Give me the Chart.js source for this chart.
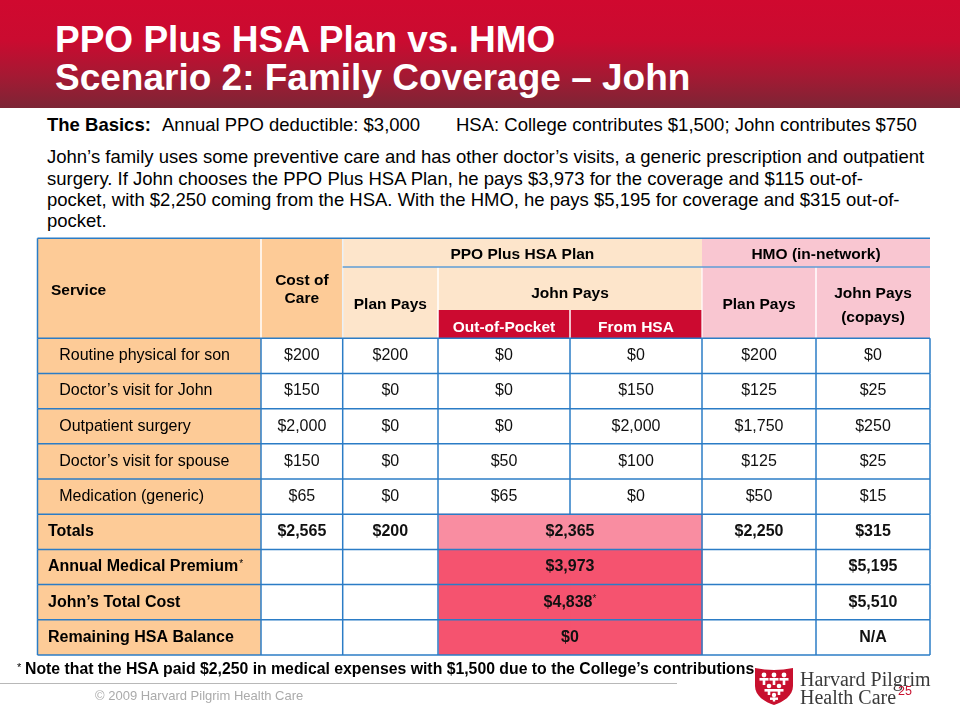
<!DOCTYPE html>
<html><head><meta charset="utf-8">
<script src="https://cdn.jsdelivr.net/npm/chart.js@4.4.1/dist/chart.umd.min.js"></script>
<style>
html,body{margin:0;padding:0;background:#fff;}
#page{position:relative;width:960px;height:720px;overflow:hidden;font-family:'Liberation Sans',Arial,sans-serif;background:#fff;}
#banner{position:absolute;left:0;top:0;width:960px;height:108px;background:linear-gradient(180deg,#D0092F 0%,#CA0B30 38%,#A51933 70%,#7C2535 100%);}
.t{position:absolute;white-space:nowrap;line-height:1;color:#000;}
.title{left:55px;color:#fff;font-weight:bold;font-size:37px;}
.p{font-size:18.5px;}
#c{position:absolute;left:0;top:0;}
#rule{position:absolute;left:0;top:683px;width:677px;height:1px;background:#B8B8B8;}
#logo{position:absolute;left:748px;top:660px;}
</style></head>
<body><div id="page">
<div id="banner"></div>
<div class="t title" style="top:21.2px">PPO Plus HSA Plan vs. HMO</div>
<div class="t title" style="top:59.2px">Scenario 2: Family Coverage – John</div>

<div class="t p" style="left:47px;top:115.6px;font-weight:bold">The Basics:</div>
<div class="t p" style="left:162px;top:115.6px">Annual PPO deductible: $3,000</div>
<div class="t p" style="left:456px;top:115.6px">HSA: College contributes $1,500; John contributes $750</div>

<div class="t p" style="left:47px;top:148.4px">John’s family uses some preventive care and has other doctor’s visits, a generic prescription and outpatient</div>
<div class="t p" style="left:47px;top:169.6px">surgery. If John chooses the PPO Plus HSA Plan, he pays $3,973 for the coverage and $115 out-of-</div>
<div class="t p" style="left:47px;top:190.8px">pocket, with $2,250 coming from the HSA. With the HMO, he pays $5,195 for coverage and $315 out-of-</div>
<div class="t p" style="left:47px;top:212px">pocket.</div>

<canvas id="c" width="960" height="720"></canvas>

<div class="t" style="left:17px;top:662px;font-size:11px;">*</div>
<div class="t" style="left:25px;top:660.8px;font-size:15.8px;font-weight:bold">Note that the HSA paid $2,250 in medical expenses with $1,500 due to the College’s contributions</div>
<div id="rule"></div>
<div class="t" style="left:95px;top:689px;font-size:13px;color:#ABABAB">© 2009 Harvard Pilgrim Health Care</div>

<svg id="logo" width="212" height="60" viewBox="0 0 212 60">
  <path d="M7,8 Q26,12 45,8 L45,26 C45,36 35,42 26,45 C17,42 7,36 7,26 Z" fill="#C8102E"/>
  <g fill="#fff">
    <circle cx="16" cy="15" r="2.4"/><circle cx="26" cy="15" r="2.4"/><circle cx="36" cy="15" r="2.4"/>
    <rect x="11.5" y="18" width="9" height="2.6"/><rect x="21.5" y="18" width="9" height="2.6"/><rect x="31.5" y="18" width="9" height="2.6"/>
    <rect x="14.7" y="18" width="2.6" height="7"/><rect x="24.7" y="18" width="2.6" height="7"/><rect x="34.7" y="18" width="2.6" height="7"/>
    <circle cx="21" cy="26" r="2.3"/><circle cx="31" cy="26" r="2.3"/>
    <rect x="16.5" y="29" width="19" height="2.6"/>
    <rect x="19.7" y="29" width="2.6" height="6"/><rect x="29.7" y="29" width="2.6" height="6"/>
    <circle cx="26" cy="35" r="2.2"/>
    <rect x="22" y="37.5" width="8" height="2.4"/>
    <rect x="24.8" y="37.5" width="2.4" height="4"/>
  </g>
  <text x="52" y="26.3" font-family="'Liberation Serif','Times New Roman',serif" font-size="20" fill="#3A3A3A">Harvard Pilgrim</text>
  <text x="52" y="43.5" font-family="'Liberation Serif','Times New Roman',serif" font-size="20" fill="#3A3A3A">Health Care</text>
  <text x="150" y="35" font-family="'Liberation Sans',Arial,sans-serif" font-size="12.5" fill="#C8102E">25</text>
</svg>
</div>

<script>
// ---------------- data ----------------
const services = ['Routine physical for son', 'Doctor’s visit for John', 'Outpatient surgery',
  'Doctor’s visit for spouse', 'Medication (generic)', 'Totals', 'Annual Medical Premium',
  'John’s Total Cost', 'Remaining HSA Balance'];
const serviceMarks = [null, null, null, null, null, null, '*', null, null];
const costOfCare       = [200, 150, 2000, 150, 65, 2565, null, null, null];
const ppoPlanPays      = [200, 0, 0, 0, 0, 200, null, null, null];
const ppoOutOfPocket   = [0, 0, 0, 50, 65, null, null, null, null];
const ppoFromHSA       = [0, 150, 2000, 100, 0, null, null, null, null];
const ppoJohnPaysTotal = [null, null, null, null, null, 2365, 3973, 4838, 0];
const ppoTotalMarks    = [null, null, null, null, null, null, null, '*', null];
const hmoPlanPays      = [200, 125, 1750, 125, 50, 2250, null, null, null];
const hmoJohnPays      = [0, 25, 250, 25, 15, 315, 5195, 5510, 'N/A'];

const planGroups   = ['PPO Plus HSA Plan', 'HMO (in-network)'];
const headService  = 'Service';
const headCost     = ['Cost of', 'Care'];
const headPlanPays = 'Plan Pays';
const headJohnPays = 'John Pays';
const headPpoSplit = ['Out-of-Pocket', 'From HSA'];
const headHmoJohn  = ['John Pays', '(copays)'];

// ---------------- layout / style ----------------
const FONT = "'Liberation Sans', Arial, sans-serif";
const colValues = [costOfCare, ppoPlanPays, ppoOutOfPocket, ppoFromHSA, hmoPlanPays, hmoJohnPays];
const colWidths = [81.7, 95.3, 132, 132, 114, 114];
const totalWidth = colWidths.reduce((a, b) => a + b, 0);
const cum = [0]; colWidths.forEach(w => cum.push(cum[cum.length - 1] + w));
const C = {
  peach: '#FDCB97', light: '#FDE5CB', pink: '#F9C6D1', crimson: '#CC0A30',
  total: '#F98DA1', hot: '#F5536F', blue: '#2B7CC6', blueLight: '#5E9DD6', white: '#FFFFFF'
};
const TABLE_LEFT = 37.5, HEAD_TOP = 238.3, HEAD_Y1 = 267, HEAD_Y2 = 310;

function fmt(v) { return typeof v === 'number' ? '$' + v.toLocaleString('en-US') : v; }
function isSpanRow(r) { return ppoJohnPaysTotal[r] != null; }
function cellFill(ci, r) {
  if (isSpanRow(r) && (ci === 2 || ci === 3)) return r === 5 ? C.total : C.hot;
  return C.white;
}

function rect(ctx, x0, y0, x1, y1, fill) { ctx.fillStyle = fill; ctx.fillRect(x0, y0, x1 - x0, y1 - y0); }
function line(ctx, x0, y0, x1, y1, color, w) {
  ctx.save(); ctx.strokeStyle = color; ctx.lineWidth = w; ctx.beginPath();
  ctx.moveTo(x0, y0); ctx.lineTo(x1, y1); ctx.stroke(); ctx.restore();
}
function text(ctx, s, x, y, opt) {
  ctx.save();
  ctx.font = (opt.bold ? 'bold ' : '') + (opt.size || 16) + 'px ' + FONT;
  ctx.fillStyle = opt.color || '#000';
  ctx.textAlign = opt.align || 'center';
  ctx.textBaseline = opt.baseline || 'alphabetic';
  ctx.fillText(s, x, y);
  ctx.restore();
}

const tablePlugin = {
  id: 'tableDecor',
  beforeDraw(chart) {
    const ctx = chart.ctx, a = chart.chartArea;
    rect(ctx, TABLE_LEFT, a.top, a.left, a.bottom, C.peach);
  },
  afterDatasetsDraw(chart) {
    const ctx = chart.ctx, a = chart.chartArea;
    const metas = chart.data.datasets.map((d, i) => chart.getDatasetMeta(i));
    // cell values
    for (let r = 0; r < services.length; r++) {
      const bold = r >= 5;
      for (let ci = 0; ci < colValues.length; ci++) {
        const v = colValues[ci][r];
        if (v == null) continue;
        const el = metas[ci].data[r];
        text(ctx, fmt(v), (el.base + el.x) / 2, el.y, { bold, size: 16, baseline: 'middle', color: '#111' });
      }
      if (isSpanRow(r)) {
        const e1 = metas[2].data[r], e2 = metas[3].data[r];
        const s = fmt(ppoJohnPaysTotal[r]);
        const mark = ppoTotalMarks[r];
        ctx.save();
        ctx.font = 'bold 16px ' + FONT;
        const w = ctx.measureText(s).width;
        ctx.font = '10px ' + FONT;
        const mw = mark ? ctx.measureText(mark).width : 0;
        ctx.restore();
        const cx = (e1.base + e2.x) / 2;
        const x0 = cx - (w + mw) / 2;
        text(ctx, s, x0, e1.y, { bold: true, size: 16, baseline: 'middle', align: 'left', color: '#111' });
        if (mark) text(ctx, mark, x0 + w, e1.y - 3, { size: 10, baseline: 'middle', align: 'left', color: '#111' });
      }
    }
    // small marks after service labels
    const ys = chart.scales.y;
    for (let r = 0; r < services.length; r++) {
      if (!serviceMarks[r]) continue;
      ctx.save(); ctx.font = 'bold 16px ' + FONT;
      const w = ctx.measureText(services[r]).width; ctx.restore();
      text(ctx, serviceMarks[r], ys.left + w + 1, ys.getPixelForTick(r) - 3, { size: 10, baseline: 'middle', align: 'left' });
    }
    // body grid
    const right = chart.scales.x.getPixelForValue(totalWidth);
    const m0 = metas[0].data;
    for (let r = 0; r < services.length; r++) {
      const top = m0[r].y - m0[r].height / 2, bot = m0[r].y + m0[r].height / 2;
      line(ctx, TABLE_LEFT, top, right, top, C.blue, 1.5);
      if (r === services.length - 1) line(ctx, TABLE_LEFT, bot, right, bot, C.blue, 1.5);
      line(ctx, TABLE_LEFT, top, TABLE_LEFT, bot, C.blue, 1.5);
      line(ctx, m0[r].base, top, m0[r].base, bot, C.blue, 1.5);
      for (let ci = 0; ci < metas.length; ci++) {
        if (ci === 2 && isSpanRow(r)) continue;
        const el = metas[ci].data[r];
        line(ctx, el.x, top, el.x, bot, C.blue, 1.5);
      }
    }
  },
  afterDraw(chart) {
    const ctx = chart.ctx, xs = chart.scales.x, a = chart.chartArea;
    const b = cum.map(v => xs.getPixelForValue(v));
    const y0 = HEAD_TOP, y1 = HEAD_Y1, y2 = HEAD_Y2, y3 = a.top;
    const L = TABLE_LEFT, R = b[6];
    rect(ctx, L, y0, b[0], y3, C.peach);
    rect(ctx, b[0], y0, b[1], y3, C.peach);
    rect(ctx, b[1], y0, b[4], y1, C.light);
    rect(ctx, b[1], y1, b[2], y3, C.light);
    rect(ctx, b[2], y1, b[4], y2, C.light);
    rect(ctx, b[2], y2, b[4], y3, C.crimson);
    rect(ctx, b[4], y0, R, y3, C.pink);
    line(ctx, b[0], y0, b[0], y3, C.white, 1.5);
    line(ctx, b[1], y0, b[1], y3, '#EAF1F8', 1.5);
    line(ctx, b[2], y1, b[2], y3, C.white, 1.5);
    line(ctx, b[3], y2, b[3], y3, C.white, 1.5);
    line(ctx, b[4], y1, b[4], y3, C.white, 1.2);
    line(ctx, b[5], y1, b[5], y3, C.white, 1.5);
    line(ctx, b[1], y1, R, y1, C.blueLight, 1.5);
    line(ctx, L, y0, R, y0, C.blue, 1.5);
    line(ctx, L, y0, L, y3, C.blue, 1.5);
    line(ctx, L, y3, R, y3, C.blue, 1.5);
    const hs = 15.5;
    text(ctx, headService, 51, 295, { bold: true, size: hs, align: 'left' });
    text(ctx, headCost[0], (b[0] + b[1]) / 2, 285, { bold: true, size: hs });
    text(ctx, headCost[1], (b[0] + b[1]) / 2, 303.3, { bold: true, size: hs });
    text(ctx, planGroups[0], (b[1] + b[4]) / 2, 259, { bold: true, size: hs });
    text(ctx, planGroups[1], (b[4] + R) / 2, 259, { bold: true, size: hs });
    text(ctx, headPlanPays, (b[1] + b[2]) / 2, 309, { bold: true, size: hs });
    text(ctx, headJohnPays, (b[2] + b[4]) / 2, 297.7, { bold: true, size: hs });
    text(ctx, headPpoSplit[0], (b[2] + b[3]) / 2, 331.5, { bold: true, size: hs, color: '#fff' });
    text(ctx, headPpoSplit[1], (b[3] + b[4]) / 2, 331.5, { bold: true, size: hs, color: '#fff' });
    text(ctx, headPlanPays, (b[4] + b[5]) / 2, 309, { bold: true, size: hs });
    text(ctx, headHmoJohn[0], (b[5] + R) / 2, 298.3, { bold: true, size: hs });
    text(ctx, headHmoJohn[1], (b[5] + R) / 2, 322.3, { bold: true, size: hs });
  }
};

new Chart(document.getElementById('c'), {
  type: 'bar',
  data: {
    labels: services,
    datasets: colValues.map((vals, ci) => ({
      label: 'col' + ci,
      data: services.map(() => colWidths[ci]),
      backgroundColor: c => cellFill(ci, c.dataIndex),
      borderWidth: 0,
      barPercentage: 1,
      categoryPercentage: 1,
      inflateAmount: 0.5
    }))
  },
  options: {
    indexAxis: 'y',
    responsive: false,
    animation: false,
    devicePixelRatio: 1,
    events: [],
    layout: { padding: { left: 48, right: 30, top: 338.3, bottom: 65 } },
    plugins: { legend: { display: false }, tooltip: { enabled: false }, title: { display: false } },
    scales: {
      x: { type: 'linear', stacked: true, min: 0, max: totalWidth, display: false },
      y: {
        type: 'category', stacked: true, offset: true, position: 'left',
        grid: { display: false }, border: { display: false },
        afterFit: s => { s.width = 261 - 48; },
        ticks: {
          crossAlign: 'far', padding: 0, color: '#000', autoSkip: false,
          font: c => ({ family: FONT, size: 16, weight: c.index >= 5 ? 'bold' : 'normal' }),
          callback: (v, i) => (i < 5 ? '\u2002\u2009' : '') + services[i]
        }
      }
    }
  },
  plugins: [tablePlugin]
});
</script>
</body></html>
